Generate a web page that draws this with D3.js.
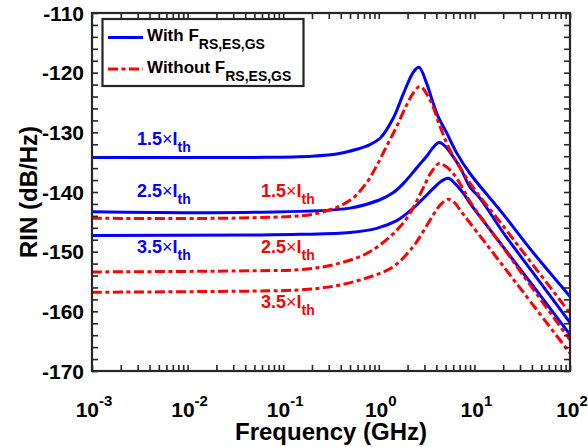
<!doctype html>
<html>
<head>
<meta charset="utf-8">
<title>RIN</title>
<script src="https://d3js.org/d3.v7.min.js"></script>
<style>
    body { margin: 0; background: #fff; }
    text { font-family: "Liberation Sans", Arial, sans-serif; font-weight: bold; fill: #000; }
</style>
</head>
<body>
<script>

    // [frequency (GHz), RIN (dB/Hz)]
    var with15 = [[0.001,-134.2],[0.01,-134.2],[0.05,-134.2],[0.2,-134.0],[0.4,-133.5],[0.6,-132.8],[0.8,-132.1],
        [1.03,-131.0],[1.42,-127.6],[1.8,-123.6],[2.3,-119.9],[2.63,-119.1],[3.17,-121.8],[3.6,-124.5],[4.19,-127.4],
        [5.1,-130.0],[6.5,-133.4],[9,-136.9],[20,-143.7],[40,-149.9],[100,-157.5]];
    var with25 = [[0.001,-143.3],[0.05,-143.4],[0.5,-142.7],[1.03,-141.3],[1.42,-140.1],[1.8,-138.6],[2.2,-137.0],
        [2.6,-135.6],[3.17,-134.0],[3.72,-132.5],[4.3,-131.7],[5.0,-132.4],[6.0,-134.1],[7.06,-135.8],[9,-139.2],
        [11.4,-141.0],[20,-146.8],[40,-153.3],[100,-161.9]];
    var with35 = [[0.001,-147.3],[0.05,-147.2],[0.15,-147.1],[0.5,-146.8],[0.95,-146.1],[1.54,-144.8],[2.0,-143.5],
        [2.49,-142.2],[3.0,-140.9],[3.72,-139.4],[4.5,-138.2],[5.33,-137.7],[6.2,-138.5],[7.65,-140.2],[9,-141.9],
        [11.4,-144.1],[20,-149.2],[40,-155.5],[100,-163.9]];
    var without15 = [[0.001,-144.4],[0.05,-144.3],[0.224,-143.6],[0.5,-141.4],[0.75,-138.4],[0.95,-135.6],[1.21,-132.3],
        [1.54,-129.0],[1.96,-125.4],[2.3,-123.4],[2.7,-122.3],[3.44,-124.6],[4.37,-129.0],[5.56,-133.0],[9,-138.5],
        [20,-145.7],[40,-152.0],[100,-160.3]];
    var without25 = [[0.001,-153.4],[0.05,-153.2],[0.15,-153.0],[0.334,-152.2],[0.75,-150.3],[1.31,-147.5],[1.67,-145.8],
        [2.12,-143.6],[2.5,-141.5],[2.92,-139.3],[3.5,-136.8],[4.29,-135.2],[5.0,-135.7],[6.01,-136.9],[7.5,-139.3],
        [9,-141.6],[20,-149.3],[40,-156.0],[100,-164.8]];
    var without35 = [[0.001,-156.8],[0.05,-156.6],[0.15,-156.4],[0.334,-155.8],[0.75,-154.4],[1.42,-152.5],[2.3,-149.1],
        [2.92,-146.6],[3.72,-143.8],[4.5,-142.0],[5.33,-141.2],[6.2,-141.8],[7.06,-143.0],[9,-145.2],[20,-152.4],
        [40,-158.7],[100,-167.0]];

    var yTicks = [-170, -160, -150, -140, -130, -120, -110];
    var xTicks = [1e-3, 1e-2, 1e-1, 1e0, 1e1, 1e2];
    var xExp = ['-3', '-2', '-1', '0', '1', '2'];

    var blue = '#0000ff', red = '#ff0000', axisCol = '#262626';
    var dashDot = '10,3.5,4,3.5';

    var xs = d3.scaleLog().domain([1e-3, 1e2]).range([92, 570]);
    var ys = d3.scaleLinear().domain([-170, -110]).range([371, 13]);

    var svg = d3.select('body').append('svg')
        .attr('width', 588)
        .attr('height', 447);

    var line = d3.line()
        .x(d => xs(d[0]))
        .y(d => ys(d[1]))
        .curve(d3.curveCatmullRom.alpha(0.5));

    var series = [
        { data: with15, color: blue, dash: null },
        { data: with25, color: blue, dash: null },
        { data: with35, color: blue, dash: null },
        { data: without15, color: red, dash: dashDot },
        { data: without25, color: red, dash: dashDot },
        { data: without35, color: red, dash: dashDot }
    ];

    svg.selectAll('path.curve')
        .data(series)
        .enter()
        .append('path')
        .attr('class', 'curve')
        .attr('d', d => line(d.data))
        .attr('fill', 'none')
        .attr('stroke', d => d.color)
        .attr('stroke-width', 3)
        .attr('stroke-dasharray', d => d.dash);

    /* --- axes: ticks inside on all four sides --- */

    var xMinor = [];
    xTicks.slice(0, -1).forEach(function(t){
        for(var k = 2; k <= 9; k++) xMinor.push(t * k);
    });
    var yMinor = d3.range(-168, -110, 2).filter(v => v % 10 !== 0);

    function addAxis(axis, tr){
        var g = svg.append('g').attr('transform', tr).call(axis);
        g.select('.domain').remove();
        g.selectAll('line').attr('stroke', axisCol).attr('stroke-width', 1.6);
        g.selectAll('text').remove();
    }

    [xTicks, xMinor].forEach(function(vals){
        addAxis(d3.axisBottom(xs).tickValues(vals).tickSize(-6).tickSizeOuter(0), 'translate(0,371)');
        addAxis(d3.axisTop(xs).tickValues(vals).tickSize(-6).tickSizeOuter(0), 'translate(0,13)');
    });
    [yTicks, yMinor].forEach(function(vals){
        addAxis(d3.axisLeft(ys).tickValues(vals).tickSize(-6).tickSizeOuter(0), 'translate(92,0)');
        addAxis(d3.axisRight(ys).tickValues(vals).tickSize(-6).tickSizeOuter(0), 'translate(570,0)');
    });

    svg.append('rect')
        .attr('x', 92).attr('y', 13)
        .attr('width', 570 - 92).attr('height', 371 - 13)
        .attr('fill', 'none')
        .attr('stroke', axisCol)
        .attr('stroke-width', 2.2);

    svg.selectAll('text.ylab')
        .data(yTicks)
        .enter()
        .append('text')
        .attr('class', 'ylab')
        .attr('x', 84)
        .attr('y', d => ys(d) + 7.5)
        .attr('text-anchor', 'end')
        .style('font-size', '21px')
        .text(d => d);

    var xl = svg.selectAll('text.xlab')
        .data(xTicks)
        .enter()
        .append('text')
        .attr('class', 'xlab')
        .attr('x', d => xs(d) + 2)
        .attr('y', 417)
        .attr('text-anchor', 'middle')
        .style('font-size', '21px');
    xl.append('tspan').text('10');
    xl.append('tspan')
        .attr('dy', -11)
        .style('font-size', '15px')
        .text((d, i) => xExp[i]);

    svg.append('text')
        .attr('x', 331)
        .attr('y', 440)
        .attr('text-anchor', 'middle')
        .style('font-size', '24px')
        .text('Frequency (GHz)');

    svg.append('text')
        .attr('transform', 'translate(37,192) rotate(-90)')
        .attr('text-anchor', 'middle')
        .style('font-size', '24px')
        .text('RIN (dB/Hz)');

    /* --- curve labels --- */

    var labels = [
        { t: '1.5', x: 137, y: 145, c: blue },
        { t: '2.5', x: 137, y: 196.5, c: blue },
        { t: '3.5', x: 137, y: 253, c: blue },
        { t: '1.5', x: 261, y: 196.5, c: red },
        { t: '2.5', x: 261, y: 253, c: red },
        { t: '3.5', x: 261, y: 308, c: red }
    ];

    var lab = svg.selectAll('text.curvelab')
        .data(labels)
        .enter()
        .append('text')
        .attr('class', 'curvelab')
        .attr('x', d => d.x)
        .attr('y', d => d.y)
        .style('font-size', '18px')
        .style('fill', d => d.c);
    lab.append('tspan').text(d => d.t);
    lab.append('tspan').style('font-weight', 'normal').text('\u00d7');
    lab.append('tspan').text('I');
    lab.append('tspan')
        .attr('dy', 7)
        .style('font-size', '14px')
        .text('th');

    /* --- legend --- */

    var leg = svg.append('g');
    leg.append('rect')
        .attr('x', 102.5).attr('y', 19)
        .attr('width', 201).attr('height', 67)
        .attr('fill', '#fff')
        .attr('stroke', axisCol)
        .attr('stroke-width', 2.2);

    var legItems = [
        { name: 'With F', y: 37.5, color: blue, dash: null },
        { name: 'Without F', y: 69, color: red, dash: dashDot }
    ];
    legItems.forEach(function(d){
        leg.append('line')
            .attr('x1', 108).attr('x2', 143)
            .attr('y1', d.y).attr('y2', d.y)
            .attr('stroke', d.color)
            .attr('stroke-width', 3)
            .attr('stroke-dasharray', d.dash);
        var t = leg.append('text')
            .attr('x', 147)
            .attr('y', d.y + 3.5)
            .style('font-size', '17px');
        t.append('tspan').text(d.name);
        t.append('tspan')
            .attr('dy', 8)
            .style('font-size', '14px')
            .text('RS,ES,GS');
    });

</script>
</body>
</html>
